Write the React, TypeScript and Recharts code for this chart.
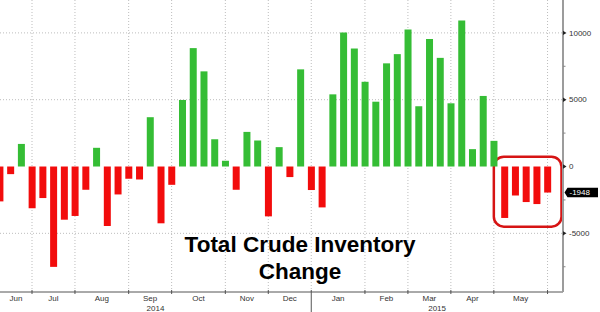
import { Bar, BarChart, CartesianGrid, Cell, ReferenceArea, ReferenceLine, XAxis, YAxis } from "recharts";

// weekly change in total US crude inventories (thousand barrels), late May 2014 .. May 2015
const weeklyChange = [
  -2610, -570, 1690, -3130, -2360, -7510, -3980, -3700, -1740, 1400, -4450, -2090, -920,
  -970, 3690, -4250, -1370, 4980, 8860, 7120, 2040, 430, -1740, 2590, 1940, -3730,
  1450, -790, 7270, -1760, -3060, 5400, 10030, 8830, 6340, 4850, 7720, 8410, 10250,
  4510, 9550, 8130, 4730, 10920, 1300, 5280, 1920, -3850, -2160, -2660, -2810, -1948,
];

const months = ["Jun", "Jul", "Aug", "Sep", "Oct", "Nov", "Dec", "Jan", "Feb", "Mar", "Apr", "May"];
// week index where each month starts (last entry = start of June 2015)
const monthStartWeek = [0, 3, 7, 12, 16, 21, 25, 29, 34, 38, 42, 46, 51];
const years = ["2014", "2015"];
const yearStartWeek = [0, 29];

const yTicks = [-7500, -5000, -2500, 0, 2500, 5000, 7500, 10000];
const gridValues = [-5000, 5000, 10000];
const highlightWeeks = [46, 52.3];
const highlightRange = [730, -4500];
const lastValue = -1948;

const X_DOMAIN: [number, number] = [0.02, 52.44];
const Y_DOMAIN: [number, number] = [-9390, 12460];

const GREEN = "#35bd35";
const RED = "#f20c0c";
const FONT = "'Liberation Sans', Arial, sans-serif";

const data = weeklyChange.map((value, week) => ({ week, value }));

const boundaries = monthStartWeek.slice(1);
const monthMids = months.map((_, i) => (monthStartWeek[i] + monthStartWeek[i + 1]) / 2);
const yearEnds = [...yearStartWeek.slice(1), X_DOMAIN[1]];
const yearMids = years.map((_, i) => (yearStartWeek[i] + yearEnds[i]) / 2);

const tickInfo = new Map<number, { kind: string; label?: string }>();
boundaries.forEach((v) => tickInfo.set(v, { kind: yearStartWeek.includes(v) ? "year-bound" : "bound" }));
monthMids.forEach((v, i) => tickInfo.set(v, { kind: "month", label: months[i] }));
yearMids.forEach((v, i) => tickInfo.set(v, { kind: "year", label: years[i] }));
const xTicks = [...tickInfo.keys()].sort((a, b) => a - b);

function XTick(props: any) {
  const { x, y, payload } = props;
  const info = tickInfo.get(payload.value);
  if (!info) return null;
  if (info.kind === "bound") {
    return <line x1={x} x2={x} y1={y - 2} y2={y + 2} stroke="#555" />;
  }
  if (info.kind === "year-bound") {
    return <line x1={x} x2={x} y1={y - 2} y2={y + 20} stroke="#555" />;
  }
  return (
    <text
      x={x}
      y={y + (info.kind === "month" ? 9.2 : 19.2)}
      textAnchor="middle"
      fontSize={8}
      fontFamily={FONT}
      fill="#333"
    >
      {info.label}
    </text>
  );
}

function YTick(props: any) {
  const { x, y, payload } = props;
  const v = payload.value;
  if (v % 5000 !== 0) {
    return <line x1={x} x2={x + 2.5} y1={y} y2={y} stroke="#888" />;
  }
  return (
    <g>
      <polygon points={`${x},${y - 2.2} ${x + 3.5},${y} ${x},${y + 2.2}`} fill="#222" />
      <text x={x + 6} y={y} dy="0.35em" fontSize={8} fontFamily={FONT} fill="#333">
        {v}
      </text>
    </g>
  );
}

function LastValueTag(props: any) {
  const vb = props.viewBox || {};
  const right = vb.x + vb.width;
  const y = vb.y;
  return (
    <g>
      <polygon
        points={`${right + 1.5},${y} ${right + 4.5},${y - 4.7} ${right + 35},${y - 4.7} ${right + 35},${y + 4.7} ${right + 4.5},${y + 4.7}`}
        fill="#000"
      />
      <text x={right + 6.5} y={y} dy="0.35em" fontSize={8} fontFamily={FONT} fill="#fff">
        {lastValue}
      </text>
    </g>
  );
}

function HighlightBox(props: any) {
  const { x, y, width, height } = props;
  return (
    <rect x={x} y={y} width={width} height={height} rx={10} ry={10} fill="none" stroke="#d61414" strokeWidth={2.5} />
  );
}

export default function App() {
  return (
    <div style={{ position: "absolute", left: 0, top: 0, width: 600, height: 312, background: "#fff" }}>
      <BarChart width={600} height={312} data={data} margin={{ top: 0, right: 0, bottom: 0, left: 0 }}>
        <CartesianGrid
          stroke="#bdbdbd"
          strokeDasharray="1 2"
          verticalValues={boundaries}
          horizontalValues={gridValues}
        />
        <XAxis
          dataKey="week"
          type="number"
          domain={X_DOMAIN}
          allowDataOverflow
          ticks={xTicks}
          interval={0}
          tickSize={0}
          tickMargin={0}
          tickLine={false}
          tick={XTick}
          axisLine={{ stroke: "#555" }}
          height={20}
        />
        <YAxis
          orientation="right"
          type="number"
          domain={Y_DOMAIN}
          allowDataOverflow
          ticks={yTicks}
          interval={0}
          width={37}
          tickSize={0}
          tickMargin={0}
          tickLine={false}
          tick={YTick}
          axisLine={{ stroke: "#9c9c9c", strokeWidth: 2 }}
        />
        <Bar dataKey="value" barSize={7} isAnimationActive={false}>
          {data.map((d) => (
            <Cell key={d.week} fill={d.value >= 0 ? GREEN : RED} />
          ))}
        </Bar>
        <ReferenceArea
          x1={highlightWeeks[0]}
          x2={highlightWeeks[1]}
          y1={highlightRange[0]}
          y2={highlightRange[1]}
          shape={HighlightBox}
        />
        <ReferenceLine y={lastValue} stroke="none" label={(p: any) => <LastValueTag {...p} />} />
      </BarChart>
      <div
        style={{
          position: "absolute",
          left: 0,
          top: 232,
          width: 600,
          textAlign: "center",
          fontFamily: FONT,
          fontWeight: "bold",
          fontSize: 22.5,
          lineHeight: "26.7px",
          color: "#000",
          pointerEvents: "none",
        }}
      >
        Total Crude Inventory
        <br />
        Change
      </div>
    </div>
  );
}
